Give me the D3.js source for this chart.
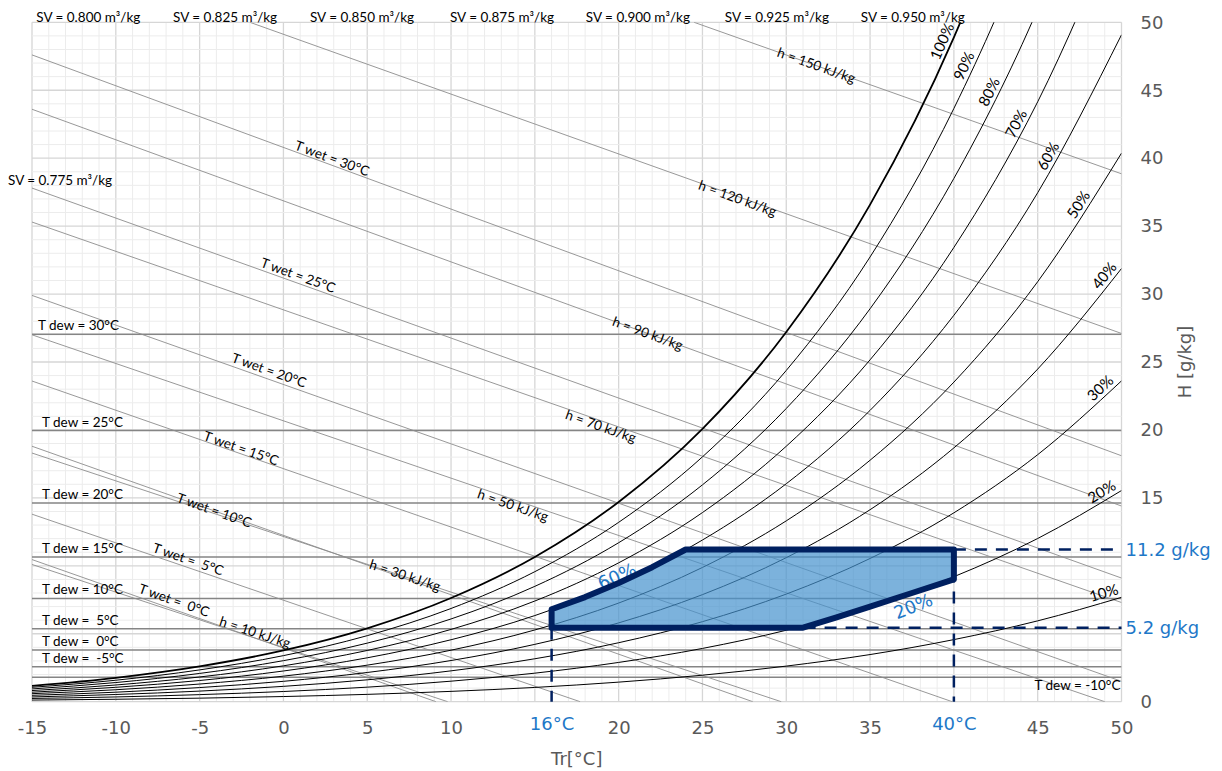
<!DOCTYPE html>
<html>
<head>
<meta charset="utf-8">
<script src="https://cdn.jsdelivr.net/npm/d3@7"></script>
<style>
body { margin: 0; background: #fff; }
.small { font-family: Lato, "Liberation Sans", sans-serif; font-size: 13.5px; fill: #000; white-space: pre; }
.axis text { font-family: "DejaVu Sans", Verdana, sans-serif; font-size: 18px; fill: #595959; }
.axis path, .axis line { display: none; }
</style>
</head>
<body>
<svg id="chart" width="1222" height="771"></svg>
<script>
// temperatures (°C) where the RH curves were read
var temps = [-15, -10, -5, 0, 5, 10, 15, 20, 25, 30, 35, 40, 45, 50];

// humidity ratio H [g/kg] for each RH curve
var rh100 = [1.17, 1.76, 2.60, 3.77, 5.40, 7.63, 10.65, 14.70, 20.08, 27.21, 36.58, 48.89, 65.05, 86.34];
var rh90 = [1.06, 1.58, 2.34, 3.39, 4.86, 6.86, 9.57, 13.20, 18.02, 24.38, 32.73, 43.66, 57.94, 76.64];
var rh80 = [0.94, 1.41, 2.08, 3.02, 4.31, 6.09, 8.49, 11.70, 15.96, 21.58, 28.92, 38.51, 50.97, 67.20];
var rh70 = [0.82, 1.23, 1.82, 2.64, 3.77, 5.32, 7.41, 10.22, 13.92, 18.80, 25.16, 33.43, 44.15, 58.02];
var rh60 = [0.70, 1.06, 1.56, 2.26, 3.23, 4.56, 6.34, 8.74, 11.90, 16.04, 21.44, 28.44, 37.46, 49.08];
var rh50 = [0.59, 0.88, 1.30, 1.88, 2.69, 3.79, 5.28, 7.26, 9.88, 13.31, 17.77, 23.52, 30.91, 40.37];
var rh40 = [0.47, 0.70, 1.04, 1.50, 2.15, 3.03, 4.22, 5.80, 7.88, 10.60, 14.13, 18.68, 24.48, 31.88];
var rh30 = [0.35, 0.53, 0.78, 1.13, 1.61, 2.27, 3.16, 4.34, 5.89, 7.92, 10.54, 13.90, 18.18, 23.61];
var rh20 = [0.24, 0.35, 0.52, 0.75, 1.07, 1.51, 2.10, 2.89, 3.92, 5.26, 6.99, 9.20, 12.01, 15.54];
var rh10 = [0.12, 0.18, 0.26, 0.38, 0.54, 0.76, 1.05, 1.44, 1.95, 2.62, 3.47, 4.57, 5.95, 7.68];
var rhNames = ["100%", "90%", "80%", "70%", "60%", "50%", "40%", "30%", "20%", "10%"];

// dew point lines
var dewNames = ["T dew = 30°C", "T dew = 25°C", "T dew = 20°C", "T dew = 15°C", "T dew = 10°C",
                "T dew =  5°C", "T dew =  0°C", "T dew =  -5°C", "T dew = -10°C"];
var dewH = [27.05, 19.95, 14.62, 10.64, 7.6, 5.37, 3.8, 2.58, 1.8];

// wet bulb lines [T, H] start / end
var wetNames = ["T wet = 30°C", "T wet = 25°C", "T wet = 20°C", "T wet = 15°C", "T wet = 10°C", "T wet =  5°C", "T wet =  0°C"];
var wetStart = [[-15, 47.6], [-15, 37.8], [-15, 29.9], [-15, 23.6], [-15, 18.8], [-15, 13.8], [-15, 10.46]];
var wetEnd = [[50, 18.1], [50, 9.1], [50, 1.5], [39.9, 0], [28.0, 0], [17.7, 0], [9.1, 0]];

// enthalpy lines
var enthNames = ["h = 10 kJ/kg", "h = 30 kJ/kg", "h = 50 kJ/kg", "h = 70 kJ/kg", "h = 90 kJ/kg", "h = 120 kJ/kg", "h = 150 kJ/kg"];
var enthStart = [[-15, 10.1], [-15, 18.3], [-15, 27.0], [-15, 35.3], [-15, 43.6], [-2, 50], [24.5, 50]];
var enthEnd = [[9.8, 0], [29.7, 0], [49.0, 0], [50, 7.3], [50, 14.4], [50, 27.1], [50, 38.85]];

// specific volume labels
var svNames = ["SV = 0.800 m³/kg", "SV = 0.825 m³/kg", "SV = 0.850 m³/kg", "SV = 0.875 m³/kg",
               "SV = 0.900 m³/kg", "SV = 0.925 m³/kg", "SV = 0.950 m³/kg"];

// comfort zone outline
var zoneT = [16, 16, 18, 20, 22, 24, 40, 40, 37.5, 35, 33, 31];
var zoneH = [5.45, 6.8, 7.7, 8.74, 9.9, 11.2, 11.2, 9.0, 8.0, 7.0, 6.2, 5.45];
var zoneTmin = 16, zoneTmax = 40, zoneHmin = 5.45, zoneHmax = 11.2;

var xTicks = [-15, -10, -5, 0, 5, 10, 20, 25, 30, 35, 45, 50];
var xMarks = [16, 40];
var yTicks = [0, 15, 20, 25, 30, 35, 40, 45, 50];
var yMarkNames = ["11.2 g/kg", "5.2 g/kg"];

// label placement (layout only)
var rhLabelT = [39.8, 41.1, 42.6, 44.2, 46.1, 47.9, 49.4, 49.1, 49.1, 49.1];
var wetLabelPos = [[2.91, 40.0], [0.88, 31.4], [-0.85, 24.41], [-2.52, 18.67], [-4.13, 14.1], [-5.68, 10.5], [-6.52, 7.48]];
var enthLabelPos = [[-1.69, 5.13], [7.26, 9.32], [13.7, 14.47], [18.94, 20.29], [21.74, 27.13], [27.1, 37.06], [31.8, 46.85]];
var svLabelT = [-11.64, -3.48, 4.69, 13.04, 21.15, 29.44, 37.55];

var blue = "#1e78c8", navy = "#002060", lineGray = "#8c8c8c";

var svg = d3.select("#chart");
var x = d3.scaleLinear().domain([-15, 50]).range([32, 1121.5]);
var y = d3.scaleLinear().domain([0, 50]).range([701.7, 22.3]);

svg.append("defs").append("clipPath").attr("id", "plot")
    .append("rect")
    .attr("x", x(-15)).attr("y", y(50))
    .attr("width", x(50) - x(-15)).attr("height", y(0) - y(50));

// grid
var grid = svg.append("g");
grid.selectAll(".vmin").data(d3.range(-15, 51, 1)).enter().append("line")
    .attr("x1", d => x(d)).attr("x2", d => x(d))
    .attr("y1", y(0)).attr("y2", y(50))
    .attr("stroke", d => d % 5 == 0 ? "#d6d6d6" : "#ececec")
    .attr("stroke-width", d => d % 5 == 0 ? 1.3 : 1);
grid.selectAll(".hmin").data(d3.range(0, 51, 1)).enter().append("line")
    .attr("y1", d => y(d)).attr("y2", d => y(d))
    .attr("x1", x(-15)).attr("x2", x(50))
    .attr("stroke", d => d % 5 == 0 ? "#d6d6d6" : "#ececec")
    .attr("stroke-width", d => d % 5 == 0 ? 1.3 : 1);

var plot = svg.append("g").attr("clip-path", "url(#plot)");

// dew point lines
plot.selectAll(".dew").data(dewH).enter().append("line")
    .attr("x1", x(-15)).attr("x2", x(50))
    .attr("y1", d => y(d)).attr("y2", d => y(d))
    .attr("stroke", "#858585").attr("stroke-width", 1.5);

// wet bulb and enthalpy lines
var diag = [];
wetNames.forEach(function (n, i) { diag.push({ name: n, a: wetStart[i], b: wetEnd[i], pos: wetLabelPos[i] }); });
enthNames.forEach(function (n, i) { diag.push({ name: n, a: enthStart[i], b: enthEnd[i], pos: enthLabelPos[i] }); });

plot.selectAll(".diag").data(diag).enter().append("line")
    .attr("x1", d => x(d.a[0])).attr("y1", d => y(d.a[1]))
    .attr("x2", d => x(d.b[0])).attr("y2", d => y(d.b[1]))
    .attr("stroke", lineGray).attr("stroke-width", 0.9);

// RH curves
var rhData = [rh100, rh90, rh80, rh70, rh60, rh50, rh40, rh30, rh20, rh10];
var line = d3.line().x(d => x(d[0])).y(d => y(d[1])).curve(d3.curveMonotoneX);
var curves = plot.selectAll(".rh").data(rhData).enter().append("path")
    .attr("d", d => line(temps.map((t, i) => [t, d[i]])))
    .attr("fill", "none").attr("stroke", "#000")
    .attr("stroke-width", (d, i) => i == 0 ? 1.8 : 1);

// RH labels along each curve
var labels = svg.append("g");
curves.each(function (d, i) {
    var node = this, total = node.getTotalLength(), tx = x(rhLabelT[i]);
    var lo = 0, hi = total;
    for (var k = 0; k < 40; k++) {
        var mid = (lo + hi) / 2;
        if (node.getPointAtLength(mid).x < tx) lo = mid; else hi = mid;
    }
    var p = node.getPointAtLength(lo),
        p1 = node.getPointAtLength(Math.max(0, lo - 3)),
        p2 = node.getPointAtLength(Math.min(total, lo + 3));
    var ang = Math.atan2(p2.y - p1.y, p2.x - p1.x) * 180 / Math.PI;
    labels.append("text")
        .attr("class", "small")
        .style("font-size", "15px")
        .attr("text-anchor", "middle")
        .attr("transform", "translate(" + p.x + "," + p.y + ") rotate(" + ang + ")")
        .attr("dy", -4)
        .text(rhNames[i]);
});

// dew labels
labels.selectAll(".dewl").data(dewH.slice(0, 8)).enter().append("text")
    .attr("class", "small")
    .attr("x", (d, i) => i == 0 ? 38 : 42)
    .attr("y", d => y(d) - 4)
    .text((d, i) => dewNames[i]);
labels.append("text").attr("class", "small")
    .attr("x", x(50) - 1).attr("y", y(dewH[8]) + 13)
    .attr("text-anchor", "end")
    .text(dewNames[8]);

// diagonal labels
labels.selectAll(".dl").data(diag).enter().append("text")
    .attr("class", "small")
    .attr("text-anchor", "middle")
    .attr("dominant-baseline", "central")
    .attr("transform", function (d) {
        var ang = Math.atan2(y(d.b[1]) - y(d.a[1]), x(d.b[0]) - x(d.a[0])) * 180 / Math.PI;
        return "translate(" + x(d.pos[0]) + "," + y(d.pos[1]) + ") rotate(" + ang + ")";
    })
    .text(d => d.name);

// SV labels
labels.selectAll(".sv").data(svNames).enter().append("text")
    .attr("class", "small")
    .attr("text-anchor", "middle")
    .attr("x", (d, i) => x(svLabelT[i]))
    .attr("y", 22)
    .text(d => d);
labels.append("text").attr("class", "small")
    .attr("x", 8).attr("y", 185)
    .text("SV = 0.775 m³/kg");

// blue RH markers of the zone
labels.append("text")
    .attr("transform", "translate(617,576) rotate(-24)")
    .attr("text-anchor", "middle").attr("dominant-baseline", "central")
    .style("font-family", "DejaVu Sans, sans-serif").style("font-size", "18px")
    .attr("fill", blue).text("60%");
labels.append("text")
    .attr("transform", "translate(913,606) rotate(-22)")
    .attr("text-anchor", "middle").attr("dominant-baseline", "central")
    .style("font-family", "DejaVu Sans, sans-serif").style("font-size", "18px")
    .attr("fill", blue).text("20%");

// dashed guides
var dashes = [
    [[zoneTmax, zoneHmax], [50, zoneHmax]],
    [[zoneTmin, zoneHmin], [50, zoneHmin]],
    [[zoneTmin, zoneHmin], [zoneTmin, 0]],
    [[zoneTmax, zoneHmax], [zoneTmax, 0]]
];
svg.selectAll(".dash").data(dashes).enter().append("line")
    .attr("x1", d => x(d[0][0])).attr("y1", d => y(d[0][1]))
    .attr("x2", d => x(d[1][0])).attr("y2", d => y(d[1][1]))
    .attr("stroke", navy).attr("stroke-width", 2.5)
    .attr("stroke-dasharray", "12,9");

// comfort zone
svg.append("path")
    .attr("d", d3.line().x(d => x(d[0])).y(d => y(d[1]))(zoneT.map((t, i) => [t, zoneH[i]])) + "Z")
    .attr("fill", "#4591cd").attr("fill-opacity", 0.7)
    .attr("stroke", navy).attr("stroke-width", 6)
    .attr("stroke-linejoin", "round");

// axes
svg.append("g").attr("class", "axis")
    .attr("transform", "translate(0," + y(0) + ")")
    .call(d3.axisBottom(x).tickValues(xTicks).tickSize(0).tickPadding(20).tickFormat(d => String(d)));
var xm = svg.append("g").attr("class", "axis")
    .attr("transform", "translate(0," + y(0) + ")")
    .call(d3.axisBottom(x).tickValues(xMarks).tickSize(0).tickPadding(16).tickFormat(d => d + "°C"));
xm.selectAll("text").style("fill", blue);

svg.append("g").attr("class", "axis")
    .attr("transform", "translate(" + x(50) + ",0)")
    .call(d3.axisRight(y).tickValues(yTicks).tickSize(0).tickPadding(19).tickFormat(d => String(d)))
    .selectAll("text").attr("text-anchor", "start");

var ym = svg.append("g").attr("class", "axis")
    .attr("transform", "translate(" + x(50) + ",0)")
    .call(d3.axisRight(y).tickValues([zoneHmax, zoneHmin]).tickSize(0).tickPadding(4)
        .tickFormat((d, i) => yMarkNames[i]));
ym.selectAll("text").style("fill", blue);

svg.append("text")
    .attr("x", (x(-15) + x(50)) / 2).attr("y", 765)
    .attr("text-anchor", "middle")
    .style("font-family", "DejaVu Sans, sans-serif").style("font-size", "18px").attr("fill", "#595959")
    .text("Tr[°C]");
svg.append("text")
    .attr("transform", "translate(1191," + (y(0) + y(50)) / 2 + ") rotate(-90)")
    .attr("text-anchor", "middle")
    .style("font-family", "DejaVu Sans, sans-serif").style("font-size", "18px").attr("fill", "#595959")
    .text("H [g/kg]");
</script>
</body>
</html>
